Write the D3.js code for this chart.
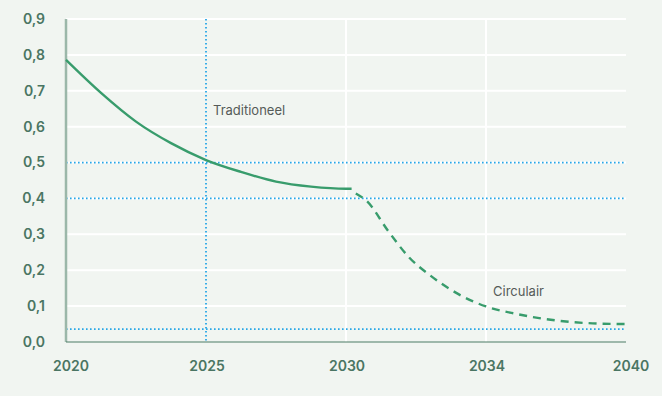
<!DOCTYPE html>
<html>
<head>
<meta charset="utf-8">
<script src="https://cdn.jsdelivr.net/npm/d3@7"></script>
<style>
  html, body { margin: 0; padding: 0; background: #f1f5f1; }
  svg { display: block; font-family: Inter, "Noto Sans", sans-serif; }
</style>
</head>
<body>
<div id="chart"></div>
<script>
// x positions are in tick slots: 0 = 2020, 1 = 2025, 2 = 2030, 3 = 2034, 4 = 2040
const xTickLabels = ["2020", "2025", "2030", "2034", "2040"];
const yTicks = [0, 0.1, 0.2, 0.3, 0.4, 0.5, 0.6, 0.7, 0.8, 0.9];

const traditioneelX = [0, 0.25, 0.5, 0.75, 1, 1.25, 1.5, 1.75, 2, 2.04];
const traditioneelY = [0.786, 0.694, 0.614, 0.554, 0.507, 0.474, 0.447, 0.433, 0.427, 0.427];

const circulairX = [2.07, 2.15, 2.3, 2.45, 2.6, 2.8, 3.0, 3.22, 3.5, 3.76, 4.0];
const circulairY = [0.414, 0.392, 0.31, 0.236, 0.186, 0.134, 0.099, 0.078, 0.06, 0.052, 0.05];

const refLinesY = [0.5, 0.4, 0.036];
const refLinesX = [1];
const whiteGridX = [2, 3];

const labels = [
  { text: "Traditioneel", x: 1.05, y: 0.645 },
  { text: "Circulair", x: 3.05, y: 0.142 }
];

const width = 662, height = 396;
const margin = { top: 19, right: 36, bottom: 54, left: 66 };

const svg = d3.select("#chart").append("svg")
  .attr("width", width)
  .attr("height", height);

const x = d3.scaleLinear().domain([0, 4]).range([margin.left, width - margin.right]);
const y = d3.scaleLinear().domain([0, 0.9]).range([height - margin.bottom, margin.top]);

const textColor = "#4a7563";
const blue = "#26a6e6";
const green = "#389c6c";

// white grid
svg.append("g").selectAll("line.hgrid")
  .data(yTicks.filter(d => d > 0))
  .join("line")
  .attr("x1", x(0)).attr("x2", x(4))
  .attr("y1", d => y(d)).attr("y2", d => y(d))
  .attr("stroke", "#ffffff").attr("stroke-width", 2);

svg.append("g").selectAll("line.vgrid")
  .data(whiteGridX)
  .join("line")
  .attr("x1", d => x(d)).attr("x2", d => x(d))
  .attr("y1", y(0.9)).attr("y2", y(0))
  .attr("stroke", "#ffffff").attr("stroke-width", 2);

// blue dotted reference lines
svg.append("g").selectAll("line")
  .data(refLinesY)
  .join("line")
  .attr("x1", x(0)).attr("x2", x(4))
  .attr("y1", d => y(d)).attr("y2", d => y(d))
  .attr("stroke", blue).attr("stroke-width", 1.8)
  .attr("stroke-dasharray", "1.6,2.4");

svg.append("g").selectAll("line")
  .data(refLinesX)
  .join("line")
  .attr("x1", d => x(d)).attr("x2", d => x(d))
  .attr("y1", y(0.9)).attr("y2", y(0))
  .attr("stroke", blue).attr("stroke-width", 1.8)
  .attr("stroke-dasharray", "1.6,2.4");

// axes lines
svg.append("line")
  .attr("x1", x(0)).attr("x2", x(0))
  .attr("y1", y(0.9)).attr("y2", y(0))
  .attr("stroke", "#9bb7a9").attr("stroke-width", 2.5);

svg.append("line")
  .attr("x1", x(0)).attr("x2", x(4))
  .attr("y1", y(0)).attr("y2", y(0))
  .attr("stroke", "#4c7c66").attr("stroke-width", 1.2);

// y tick labels
svg.append("g").selectAll("text")
  .data(yTicks)
  .join("text")
  .attr("x", 45)
  .attr("y", d => y(d))
  .attr("dy", "0.35em")
  .attr("text-anchor", "end")
  .attr("fill", textColor)
  .attr("font-size", 14)
  .attr("font-weight", 600)
  .text(d => d3.format(".1f")(d).replace(".", ","));

// x tick labels
svg.append("g").selectAll("text")
  .data(xTickLabels)
  .join("text")
  .attr("x", (d, i) => x(i) + (i === 0 || i === 4 ? 5 : 1))
  .attr("y", 371)
  .attr("text-anchor", "middle")
  .attr("fill", textColor)
  .attr("font-size", 14)
  .attr("font-weight", 600)
  .text(d => d);

const line = d3.line()
  .x(d => x(d[0]))
  .y(d => y(d[1]))
  .curve(d3.curveMonotoneX);

svg.append("path")
  .datum(d3.zip(traditioneelX, traditioneelY))
  .attr("d", line)
  .attr("fill", "none")
  .attr("stroke", green)
  .attr("stroke-width", 2.4);

svg.append("path")
  .datum(d3.zip(circulairX, circulairY))
  .attr("d", line)
  .attr("fill", "none")
  .attr("stroke", green)
  .attr("stroke-width", 2.4)
  .attr("stroke-dasharray", "8,6");

svg.append("g").selectAll("text")
  .data(labels)
  .join("text")
  .attr("x", d => x(d.x))
  .attr("y", d => y(d.y))
  .attr("dy", "0.35em")
  .attr("fill", "#555b58")
  .attr("font-size", 13)
  .text(d => d.text);
</script>
</body>
</html>
